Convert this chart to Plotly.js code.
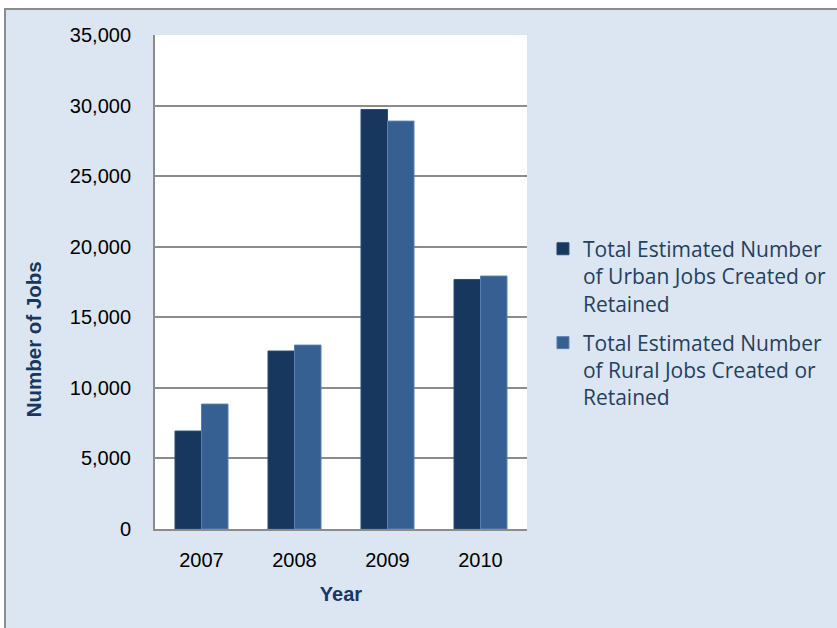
<!DOCTYPE html>
<html><head><meta charset="utf-8">
<script src="https://cdn.plot.ly/plotly-3.0.1.min.js"></script>
<style>
html,body{margin:0;padding:0;background:#fff;width:837px;height:628px;overflow:hidden;}
#frame{position:absolute;left:4px;top:8px;width:840px;height:630px;background:#dce6f2;border-left:2px solid #8c8c8c;border-top:2px solid #8c8c8c;}
#chart{position:absolute;left:0;top:0;width:837px;height:628px;}
</style></head>
<body>
<div id="frame"></div>
<div id="chart"></div>
<script>
const years = ["2007", "2008", "2009", "2010"];
const urbanJobs = [6940, 12610, 29720, 17680];
const ruralJobs = [8850, 13030, 28900, 17920];
const urbanName = "Total Estimated Number<br>of Urban Jobs Created or<br>Retained";
const ruralName = "Total Estimated Number<br>of Rural Jobs Created or<br>Retained";
const yTicks = [0, 5000, 10000, 15000, 20000, 25000, 30000, 35000];
const yTitle = "Number of Jobs";
const xTitle = "Year";

const traces = [
  {type: "bar", x: years, y: urbanJobs, name: urbanName, legendgroup: "u",
   marker: {color: "#17375e", line: {color: "#2c4d75", width: 1}}},
  {type: "bar", x: years, y: ruralJobs, name: ruralName, legendgroup: "r",
   marker: {color: "#376092", line: {color: "#5b7fad", width: 1}}}
];

const tickFont = {size: 20, family: "Liberation Sans Narrow, Liberation Sans, Arial, sans-serif", color: "#000"};
const titleFont = {size: 20, color: "#17375e", family: "Liberation Sans Narrow, Liberation Sans, Arial, sans-serif"};

const layout = {
  width: 837, height: 628,
  margin: {l: 155, r: 310, t: 35, b: 99, autoexpand: false},
  paper_bgcolor: "rgba(0,0,0,0)",
  plot_bgcolor: "#ffffff",
  barmode: "group",
  bargap: 0.43,
  bargroupgap: 0,
  showlegend: true,
  font: {family: "Liberation Sans, Arial, sans-serif", color: "#000"},
  xaxis: {
    type: "category",
    showline: true, linecolor: "#8c8c8c", linewidth: 2,
    ticks: "", showgrid: false,
    ticklabelstandoff: 12,
    tickfont: tickFont,
    title: {text: "<b>" + xTitle + "</b>", font: titleFont, standoff: 17}
  },
  yaxis: {
    range: [0, 35000],
    tickvals: yTicks,
    tickformat: ",d",
    showline: true, linecolor: "#8c8c8c", linewidth: 2,
    gridcolor: "#8c8c8c", gridwidth: 2,
    zeroline: false,
    ticks: "", ticklen: 0,
    ticklabelstandoff: 18,
    tickfont: tickFont
  },
  annotations: [{
    text: "<b>" + yTitle + "</b>",
    xref: "paper", yref: "paper",
    x: -0.328, y: 0.384,
    xanchor: "center", yanchor: "middle",
    textangle: -90, showarrow: false,
    font: {size: 20.5, color: "#17375e", family: "Liberation Sans Narrow, Liberation Sans, Arial, sans-serif"}
  }],
  legend: {
    xref: "container", yref: "container",
    x: 0.6487, xanchor: "left", y: 0.636, yanchor: "top",
    bgcolor: "rgba(0,0,0,0)",
    font: {size: 21, color: "#243f60", family: "Open Sans, Noto Sans, sans-serif"},
    tracegroupgap: 9,
    traceorder: "grouped",
    valign: "top",
    itemwidth: 30
  }
};

Plotly.newPlot("chart", traces, layout, {displayModeBar: false, staticPlot: true});
</script>
</body></html>
